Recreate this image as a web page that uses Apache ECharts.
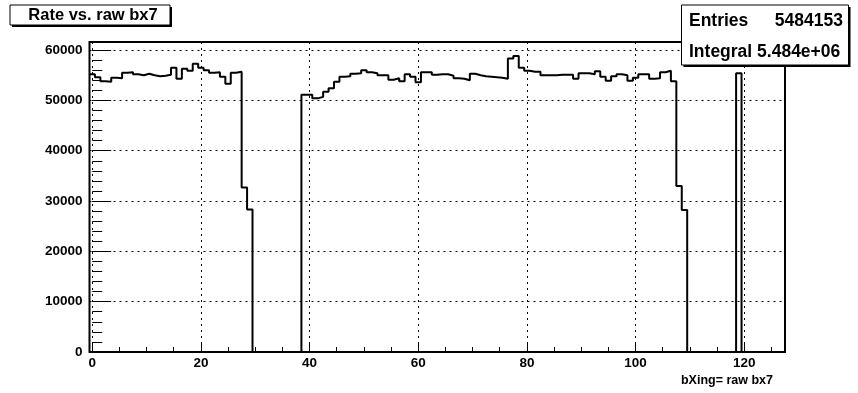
<!DOCTYPE html>
<html><head><meta charset="utf-8">
<script src="https://cdn.jsdelivr.net/npm/echarts@6/dist/echarts.min.js"></script>
<style>html,body{margin:0;padding:0;background:#fff}#c{width:858px;height:393px}</style>
</head><body><div id="c"></div>
<script>
// ---- data (bin centres and contents) ----
const bins = Array.from({length:128}, (_, i) => i); // bin centres 0..127
const countsA = [55200,54600,53800,53700,54500,54400,55500,55600,55200,55000,
                 55300,55000,54800,54900,55100,56500,54300,56300,55900,57300,
                 56500,56000,55500,55600,54700,53300,55500,55700,32700,28300];           // bins 0-29
const countsGap1 = [0,0,0,0,0,0,0,0,0];                                                  // bins 30-38
const countsB = [51100,51100,50400,50700,51700,52400,53700,54700,54800,55300,
                 55400,56000,55600,55400,55000,55000,54100,54400,53800,55200,
                 54700,53600,55600,55600,55100,55200,55200,54900,54400,54300,
                 54000,55300,55000,54800,54700,54600,54500,54300,58300,58800,
                 56500,55900,55700,55700,55000,55000,55000,55100,55100,55100,
                 54300,55400,55400,55200,55800,54700,53900,54800,55200,55000,
                 53900,54500,55200,55200,54300,54400,55600,55900,53800,33000,
                 28200];                                                                  // bins 39-109
const countsGap2 = [0,0,0,0,0,0,0,0,0];                                                  // bins 110-118
const countsC = [55400];                                                                  // bin 119
const countsTail = [0,0,0,0,0,0,0,0];                                                    // bins 120-127
const counts = [].concat(countsA, countsGap1, countsB, countsGap2, countsC, countsTail);

const xTickLabels = [0,20,40,60,80,100,120];
const yTickLabels = [0,10000,20000,30000,40000,50000,60000];
const titleText = 'Rate vs. raw bx7';
const xTitle = 'bXing= raw bx7';
const statEntries = '5484153';
const statIntegral = '5.484e+06';

// ---- layout ----
const xLo = -0.5, xHi = 127.5, yMax = 61600;
const frame = {left: 89.5, top: 42, width: 695.5, height: 310};
const pxPerUnit = frame.width / (xHi - xLo);
const gridDisp = {left: frame.left + (0 - xLo) * pxPerUnit, top: frame.top,
                  width: (xHi - 0) * pxPerUnit, height: frame.height};

const stepPts = [];
bins.forEach((b, i) => { stepPts.push([b - 0.5, counts[i]]); stepPts.push([b + 0.5, counts[i]]); });

const FONT = 'Liberation Sans';
const dotted = {type: [2, 4], color: '#000', width: 1};

const chart = echarts.init(document.getElementById('c'));
chart.setOption({
  animation: false,
  backgroundColor: '#fff',
  grid: [
    Object.assign({show: true, borderColor: '#000', borderWidth: 2, backgroundColor: 'transparent'}, frame),
    Object.assign({}, gridDisp),
    Object.assign({}, gridDisp)
  ],
  xAxis: [
    {gridIndex: 0, type: 'value', min: xLo, max: xHi, show: false},
    {gridIndex: 1, type: 'value', min: 0, max: xHi, interval: xTickLabels[1] - xTickLabels[0],
     axisLine: {show: false},
     axisTick: {show: true, inside: true, length: 9, lineStyle: {color: '#000', width: 1}},
     axisLabel: {show: true, showMaxLabel: false, margin: 4, color: '#000', fontFamily: FONT,
                 fontWeight: 'bold', fontSize: 13.5, formatter: v => String(v)},
     splitLine: {show: true, lineStyle: dotted}},
    {gridIndex: 2, type: 'value', min: 0, max: xHi, interval: 5,
     axisLine: {show: false}, axisLabel: {show: false}, splitLine: {show: false},
     axisTick: {show: true, inside: true, length: 5, lineStyle: {color: '#000', width: 1}}}
  ],
  yAxis: [
    {gridIndex: 0, type: 'value', min: 0, max: yMax, interval: yTickLabels[1] - yTickLabels[0],
     axisLine: {show: false},
     axisTick: {show: true, inside: true, length: 19, lineStyle: {color: '#000', width: 1}},
     axisLabel: {show: true, showMaxLabel: false, margin: 7, color: '#000', fontFamily: FONT,
                 fontWeight: 'bold', fontSize: 13.5, formatter: v => String(v)},
     splitLine: {show: true, lineStyle: dotted}},
    {gridIndex: 1, type: 'value', min: 0, max: yMax, interval: 2000,
     axisLine: {show: false}, axisLabel: {show: false}, splitLine: {show: false},
     axisTick: {show: true, inside: true, length: 10, lineStyle: {color: '#000', width: 1}}},
    {gridIndex: 2, type: 'value', min: 0, max: 1, show: false}
  ],
  series: [{
    type: 'line', xAxisIndex: 0, yAxisIndex: 0, data: stepPts,
    symbol: 'none', lineStyle: {color: '#000', width: 2}, silent: true, z: 5
  }],
  graphic: [
    {type: 'rect', shape: {x: 12, y: 7, width: 160, height: 20}, style: {fill: '#000'}, z: 10},
    {type: 'rect', shape: {x: 10, y: 5, width: 160, height: 20}, style: {fill: '#fff', stroke: '#000', lineWidth: 1}, z: 11},
    {type: 'text', x: 93, y: 15, z: 12, style: {text: titleText, font: 'bold 16.5px "Liberation Sans"', fill: '#000', align: 'center', verticalAlign: 'middle'}},
    {type: 'rect', shape: {x: 683.5, y: 7, width: 167, height: 60}, style: {fill: '#000'}, z: 10},
    {type: 'rect', shape: {x: 681.5, y: 5, width: 167, height: 60}, style: {fill: '#fff', stroke: '#000', lineWidth: 1}, z: 11},
    {type: 'text', x: 689, y: 21, z: 12, style: {text: 'Entries', font: 'bold 17.5px "Liberation Sans"', fill: '#000', align: 'left', verticalAlign: 'middle'}},
    {type: 'text', x: 843, y: 21, z: 12, style: {text: statEntries, font: 'bold 17.5px "Liberation Sans"', fill: '#000', align: 'right', verticalAlign: 'middle'}},
    {type: 'text', x: 689, y: 52, z: 12, style: {text: 'Integral ' + statIntegral, font: 'bold 17.5px "Liberation Sans"', fill: '#000', align: 'left', verticalAlign: 'middle'}},
    {type: 'text', x: 773, y: 381, z: 12, style: {text: xTitle, font: 'bold 12.5px "Liberation Sans"', fill: '#000', align: 'right', verticalAlign: 'middle'}}
  ]
});
</script></body></html>
